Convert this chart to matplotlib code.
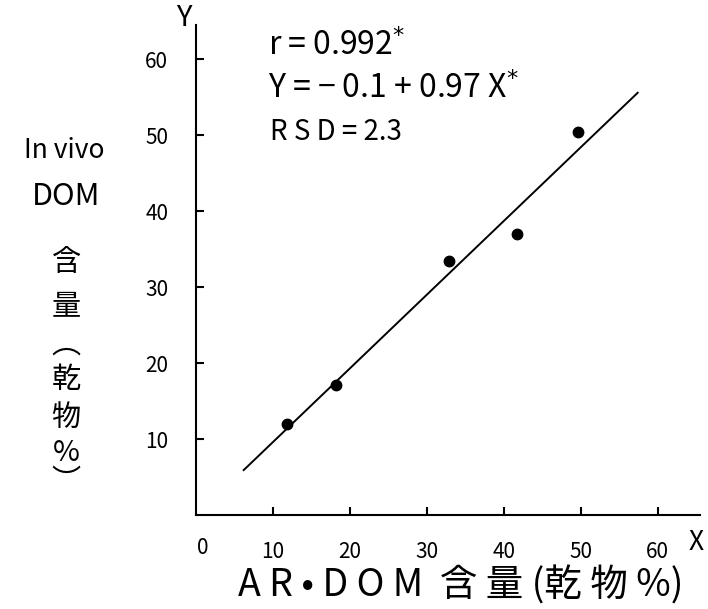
import matplotlib.pyplot as plt

plt.rcParams['font.family'] = ['Noto Sans CJK JP', 'DejaVu Sans']

# AR-DOM vs in vivo DOM content (% of dry matter)
ar_dom = [11.8, 18.2, 32.9, 41.7, 49.7]
in_vivo_dom = [12.0, 17.1, 33.5, 37.0, 50.4]

# regression Y = -0.1 + 0.97X
intercept = -0.1
slope = 0.97
fit_range = [6.2, 57.4]

x_ticks = [10, 20, 30, 40, 50, 60]
y_ticks = [10, 20, 30, 40, 50, 60]

W, H = 708, 609
fig = plt.figure(figsize=(W / 100, H / 100), dpi=100)
ax = fig.add_axes([196 / W, 1 - 515 / H, (700 - 196) / W, (515 - 25) / H])

ax.set_xlim(0, 65.5)
ax.set_ylim(0, 64.5)

fit_y = [intercept + slope * x for x in fit_range]
ax.plot(fit_range, fit_y, color='black', lw=1.4)
ax.plot(ar_dom, in_vivo_dom, 'o', color='black', ms=7.5)

for s in ['top', 'right']:
    ax.spines[s].set_visible(False)
for s in ['left', 'bottom']:
    ax.spines[s].set_linewidth(1.5)

ax.set_xticks(x_ticks)
ax.set_yticks(y_ticks)
ax.tick_params(axis='both', direction='in', length=6, width=1.5, labelsize=15)
ax.tick_params(axis='x', pad=19)
ax.tick_params(axis='y', pad=20)

def ftext(x, y, s, **kw):
    kw.setdefault('ha', 'center')
    kw.setdefault('va', 'center')
    fig.text(x / W, 1 - y / H, s, **kw)

# axis names and origin
ftext(184, 18, 'Y', fontsize=21)
ftext(696, 543, 'X', fontsize=19)
ftext(203, 548, '0', fontsize=15)

# statistics
ftext(268, 46, 'r = 0.992$^{*}$', fontsize=23, ha='left')
ftext(268, 89, 'Y = − 0.1 + 0.97 X$^{*}$', fontsize=23, ha='left')
ftext(270, 132, 'R S D = 2.3', fontsize=20, ha='left')

# vertical y label
ftext(64, 150, 'In vivo', fontsize=19)
ftext(66, 197, 'DOM', fontsize=22)
for ch, y in [('含', 263), ('量', 307), ('︵', 345), ('乾', 380),
              ('物', 418), ('%', 453), ('︶', 482)]:
    ftext(66, y, ch, fontsize=21)

ftext(461, 586, 'A R • D O M  含 量 (乾 物 %)', fontsize=27)

fig.savefig('out.png', dpi=100)
